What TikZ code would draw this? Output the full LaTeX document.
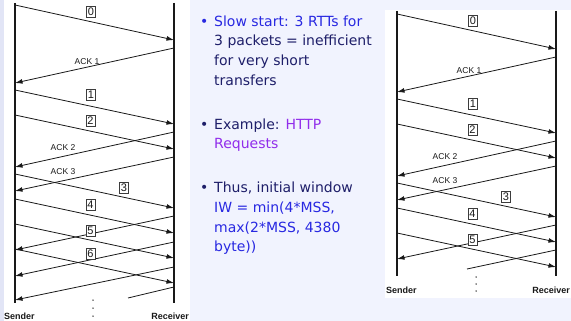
\documentclass[tikz,border=0pt]{standalone}
\usepackage{fontspec}
\setmainfont{DejaVu Sans}
\newfontfamily\labelfont{Liberation Sans}
\usetikzlibrary{arrows.meta}

\definecolor{pagebg}{RGB}{241,243,254}
\definecolor{edgebg}{RGB}{226,229,246}
\definecolor{navy}{RGB}{30,30,105}
\definecolor{brightblue}{RGB}{40,40,225}
\definecolor{linkpurple}{RGB}{145,45,235}
\definecolor{ink}{RGB}{25,25,25}

\tikzset{
  life/.style={ink, line width=2.2pt},
  msg/.style={ink, line width=0.8pt, -{Latex[length=7.5pt,width=4.8pt]}},
  stub/.style={ink, line width=0.8pt},
  seqbox/.style={draw=ink!85, line width=0.5pt, fill=white, text=ink,
    font=\labelfont\fontsize{11}{11}\selectfont, inner xsep=1.4pt, inner ysep=1.8pt},
  acklabel/.style={font=\labelfont\fontsize{8.5}{8.5}\selectfont, text=ink, inner sep=0pt},
  role/.style={font=\labelfont\bfseries\fontsize{9}{9}\selectfont, text=ink, inner sep=0pt},
  dotmark/.style={circle, fill=ink, inner sep=0pt, minimum size=1.5pt},
  slideline/.style={anchor=base west, inner sep=0pt, font=\fontsize{14}{19.5}\selectfont, text=navy},
}

% data segment from sender (y0) to receiver (y1)
\newcommand\sendpkt[4]{%
  \coordinate (#1#2s) at (15,#3);
  \coordinate (#1#2r) at (174,#4);
  \draw[msg] (#1#2s) -- (#1#2r);}
% acknowledgement from receiver (y0) back to sender (y1)
\newcommand\sendack[4]{%
  \coordinate (#1#2r) at (174,#3);
  \coordinate (#1#2s) at (15,#4);
  \draw[msg] (#1#2r) -- (#1#2s);}

% exchange shared by both timelines
\newcommand\slowstartflow[1]{%
  \sendpkt{#1}{p0}{5}{40}
  \sendack{#1}{a1}{48}{83}
  \sendpkt{#1}{p1}{90}{124}
  \sendpkt{#1}{p2}{115}{149}
  \sendack{#1}{a2}{132}{167}
  \sendack{#1}{a3}{157}{191}
  \sendpkt{#1}{p3}{174}{208}
  \sendpkt{#1}{p4}{199}{233}
  \sendack{#1}{a4}{216}{250}
  \sendpkt{#1}{p5}{224}{258}
  \node[seqbox] (#1l0) at (91,12) {0};
  \node[acklabel] (#1k1) at (87,62) {ACK 1};
  \node[seqbox] (#1l1) at (91,95) {1};
  \node[seqbox] (#1l2) at (90.5,121) {2};
  \node[acklabel] (#1k2) at (63,148) {ACK 2};
  \node[acklabel] (#1k3) at (63,172) {ACK 3};
  \node[seqbox] (#1l3) at (124,188) {3};
  \node[seqbox] (#1l4) at (90.5,205) {4};
  \node[seqbox] (#1l5) at (90.5,231) {5};
}

\begin{document}
\begin{tikzpicture}[x=1pt,y=-1pt]
  \useasboundingbox (0,0) rectangle (571,321);
  \fill[pagebg] (0,0) rectangle (571,321);
  \fill[edgebg] (0,0) rectangle (3.5,321);
  \fill[white] (4,0) rectangle (190,321);
  \fill[white] (385,10) rectangle (571,298);

  % ---- left timeline ----
  \coordinate (LStop) at (15,3);   \coordinate (LSbot) at (15,303);
  \coordinate (LRtop) at (174,3);  \coordinate (LRbot) at (174,303);
  \draw[life] (LStop) -- (LSbot);
  \draw[life] (LRtop) -- (LRbot);
  \slowstartflow{L}
  \sendpkt{L}{p6}{249}{283}
  \sendack{L}{a5}{242}{276}
  \sendack{L}{a6}{267}{300}
  \coordinate (La7r) at (174,287);
  \coordinate (La7e) at (128,298);
  \draw[stub] (La7r) -- (La7e);
  \node[seqbox] (Ll6) at (90.5,254) {6};
  \node[dotmark] (Ld1) at (93,300) {};
  \node[dotmark] (Ld2) at (93,308) {};
  \node[dotmark] (Ld3) at (93,316) {};
  \node[role, anchor=west] (Lsender) at (4,316) {Sender};
  \node[role, anchor=east] (Lreceiver) at (189,316) {Receiver};

  % ---- right timeline ----
  \begin{scope}[shift={(382,9)}]
    \coordinate (RStop) at (15,2);   \coordinate (RSbot) at (15,267);
    \coordinate (RRtop) at (174,2);  \coordinate (RRbot) at (174,267);
    \draw[life] (RStop) -- (RSbot);
    \draw[life] (RRtop) -- (RRbot);
    \slowstartflow{R}
    \coordinate (Ra5r) at (174,241);
    \coordinate (Ra5e) at (85,260);
    \draw[stub] (Ra5r) -- (Ra5e);
    \node[dotmark] (Rd1) at (94,268) {};
    \node[dotmark] (Rd2) at (94,275) {};
    \node[dotmark] (Rd3) at (94,282) {};
    \node[role, anchor=west] (Rsender) at (4,281) {Sender};
    \node[role, anchor=east] (Rreceiver) at (188,281) {Receiver};
  \end{scope}

  % ---- bullet points ----
  \node[slideline, text=brightblue] (dot1) at (200,26.5) {•};
  \node[slideline, text=brightblue] (t11) at (214,26.5) {Slow start: 3 RTTs for};
  \node[slideline] (t12) at (214,46) {3 packets = inefficient};
  \node[slideline] (t13) at (214,65.5) {for very short};
  \node[slideline] (t14) at (214,85) {transfers};

  \node[slideline] (dot2) at (200,129) {•};
  \node[slideline] (t21) at (214,129) {Example: \textcolor{linkpurple}{HTTP}};
  \node[slideline, text=linkpurple] (t22) at (214,148.5) {Requests};

  \node[slideline] (dot3) at (200,193) {•};
  \node[slideline] (t31) at (214,193) {Thus, initial window};
  \node[slideline, text=brightblue] (t32) at (214,212.5) {IW = min(4*MSS,};
  \node[slideline, text=brightblue] (t33) at (214,232) {max(2*MSS, 4380};
  \node[slideline, text=brightblue] (t34) at (214,251.5) {byte))};
\end{tikzpicture}
\end{document}
